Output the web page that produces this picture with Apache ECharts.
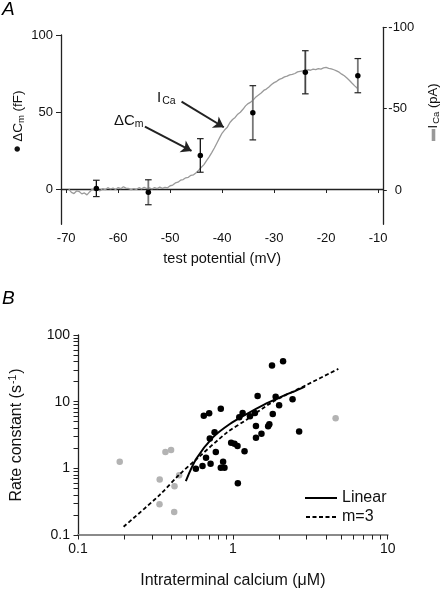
<!DOCTYPE html>
<html><head><meta charset="utf-8">
<script src="https://cdn.jsdelivr.net/npm/echarts@6/dist/echarts.min.js"></script>
<style>html,body{margin:0;padding:0;background:#fff}#c{width:442px;height:590px}</style>
</head><body><div id="c"></div><script>
// ---------- Panel A data ----------
const potential = [-64.2, -54.2, -44.2, -34.1, -24.0, -13.9];
const deltaCm = [0.4, -2.1, 21.8, 49.5, 75.8, 73.6];
const deltaCmErr = [5.3, 8.1, 10.9, 17.6, 14.0, 11.1];
const traceV = [-69.5,-69.0,-68.5,-68.0,-67.5,-67.0,-66.5,-66.0,-65.5,-65.0,-64.5,-64.0,-63.5,-63.0,-62.5,-62.0,-61.5,-61.0,-60.5,-60.0,
  -59.5,-59.0,-58.5,-58.0,-57.5,-57.0,-56.5,-56.0,-55.5,-55.0,-54.5,-54.0,-53.5,-53.0,-52.5,-52.0,-51.5,-51.0,-50.5,-50.0,
  -49.5,-49.0,-48.5,-48.0,-47.5,-47.0,-46.5,-46.0,-45.5,-45.0,-44.5,-44.0,-43.5,-43.0,-42.5,-42.0,-41.5,-41.0,-40.5,-40.0,
  -39.5,-39.0,-38.5,-38.0,-37.5,-37.0,-36.5,-36.0,-35.5,-35.0,-34.5,-34.0,-33.5,-33.0,-32.5,-32.0,-31.5,-31.0,-30.5,-30.0,
  -29.5,-29.0,-28.5,-28.0,-27.5,-27.0,-26.5,-26.0,-25.5,-25.0,-24.5,-24.0,-23.5,-23.0,-22.5,-22.0,-21.5,-21.0,-20.5,-20.0,
  -19.5,-19.0,-18.5,-18.0,-17.5,-17.0,-16.5,-16.0,-15.5,-15.0,-14.5,-14.0];
const traceI = [-0.5,1.5,2.2,0.6,1.0,2.4,1.8,3.0,1.2,-0.4,0.3,-0.2,0.5,-0.8,-0.2,-1.4,-0.6,-1.2,-0.3,-1.5,
  -0.8,-2.0,-1.1,-0.9,-0.2,-0.9,-0.4,-1.4,-0.7,-1.7,-0.9,-1.3,-0.6,-1.5,-0.8,-1.8,-1.0,-1.6,-1.3,-2.6,
  -3.0,-4.3,-4.8,-6.0,-6.4,-7.5,-7.8,-9.0,-9.3,-10.6,-12.2,-14.0,-15.6,-18.0,-20.4,-23.0,-25.8,-28.9,-32.0,-35.0,
  -37.0,-38.6,-41.5,-43.3,-44.6,-46.6,-47.8,-49.6,-51.7,-53.1,-54.0,-55.4,-57.2,-58.4,-59.6,-61.2,-62.0,-63.3,-64.8,-66.0,
  -66.8,-68.0,-68.6,-69.5,-70.0,-70.8,-71.0,-71.6,-72.6,-72.9,-73.2,-73.3,-73.9,-73.6,-74.3,-74.0,-74.6,-74.3,-75.0,-75.4,
  -74.8,-74.5,-73.9,-73.2,-72.4,-71.2,-70.2,-68.8,-67.3,-65.6,-64.0,-62.5];
const xTicksA = [-70, -60, -50, -40, -30, -20, -10];
const yTicksLeftA = [0, 50, 100];
const yTicksRightA = [-100, -50, 0];
// annotation arrows (data coords: mV, fF)
const arrowCm = [[-54.86, 40.5], [-45.89, 24.7]];
const arrowICa = [[-47.81, 56.7], [-39.68, 40.1]];

// ---------- Panel B data ----------
const blackCa = [0.649,0.703,0.836,0.762,0.710,0.776,0.671,0.577,0.637,0.718,0.865,0.836,0.883,1.077,0.975,1.025,1.072,1.19,1.10,1.156,1.29,1.388,1.445,1.41,1.41,1.79,2.11,1.89,2.43,1.99,1.81,1.72,1.69,1.53,2.68];
const blackRate = [6.15,6.68,7.82,3.49,2.81,1.76,1.44,0.986,1.08,1.17,1.25,1.02,1.02,0.597,2.42,2.34,2.16,1.80,5.83,6.75,6.03,6.75,12.2,4.33,2.87,34.8,40.3,11.9,10.9,8.87,6.53,4.59,4.29,3.30,3.56];
const grayCa = [0.186,0.367,0.399,0.337,0.45,0.42,0.336,0.418,4.61];
const grayRate = [1.25,1.76,1.89,0.68,0.79,0.54,0.29,0.222,5.63];
const linearCa = [0.497,0.582,0.746,0.956,1.226,1.57,2.01,2.58,2.92];
const linearRate = [0.645,1.40,2.94,4.63,6.53,8.9,11.6,14.8,16.8];
const m3Ca = [0.197,0.337,0.45,0.582,0.91,1.226,1.82,2.99,4.80];
const m3Rate = [0.133,0.40,0.80,1.37,3.4,5.37,10.0,17.8,31];
const xTicksB = [0.1, 1, 10];
const yTicksB = [0.1, 1, 10, 100];
const xTicksAllB = [0.1,0.2,0.3,0.4,0.5,0.6,0.7,0.8,0.9,1,2,3,4,5,6,7,8,9,10];
const yTicksAllB = [0.1,0.2,0.3,0.4,0.5,0.6,0.7,0.8,0.9,1,2,3,4,5,6,7,8,9,10,20,30,40,50,60,70,80,90,100];

// ---------- styles ----------
const FONT = '"Liberation Sans", Arial, Helvetica, sans-serif';
const INK = '#111';
const stemColors = ['#111', '#777', '#111', '#777', '#444', '#777'];
const ICON_SOLID = 'path://M0,0H32V2H0Z';
const ICON_DASH = 'path://M0,0h4v2h-4z M6.5,0h4v2h-4z M13,0h4v2h-4z M19.5,0h4v2h-4z M26,0h4v2h-4z';

const zip = (a, b) => a.map((v, i) => [v, b[i]]);

const chart = echarts.init(document.getElementById('c'), null, {renderer: 'canvas'});
const axisCommon = {
  axisLine: {show: true, lineStyle: {color: '#222', width: 1.3}},
  splitLine: {show: false},
};

const option = {
  animation: false,
  backgroundColor: '#fff',
  textStyle: {fontFamily: FONT, color: INK},
  grid: [
    {left: 61, right: 58.7, top: 35, bottom: 365.7},
    {left: 61, right: 58.7, top: 27.3, bottom: 365.7},
    {left: 77.7, right: 54.3, top: 335, bottom: 52.7}
  ],
  xAxis: [
    Object.assign({}, axisCommon, {
      type: 'value', gridIndex: 0, min: -71, max: -9,
      name: 'test potential (mV)', nameLocation: 'middle', nameGap: 27,
      nameTextStyle: {fontSize: 14.5, color: INK},
      axisTick: {show: true, length: 4, customValues: xTicksA, lineStyle: {color: '#222'}},
      axisLabel: {fontSize: 13, color: INK, margin: 8, customValues: xTicksA}
    }),
    {type: 'value', gridIndex: 1, min: -71, max: -9, show: false},
    Object.assign({}, axisCommon, {
      type: 'log', gridIndex: 2, min: 0.1, max: 10, logBase: 10,
      axisLine: {show: true, lineStyle: {color: '#8a8a8a', width: 2}},
      name: 'Intraterminal calcium (\u03bcM)', nameLocation: 'middle', nameGap: 38,
      nameTextStyle: {fontSize: 16, color: INK},
      axisTick: {show: true, length: 4.5, customValues: xTicksAllB, lineStyle: {color: '#222', width: 1}},
      axisLabel: {fontSize: 14, color: INK, margin: 7, customValues: xTicksB,
        formatter: v => String(+(+v).toPrecision(3))}
    })
  ],
  yAxis: [
    Object.assign({}, axisCommon, {
      type: 'value', gridIndex: 0, min: -22.9, max: 100, position: 'left',
      axisTick: {show: true, length: 5, customValues: yTicksLeftA, lineStyle: {color: '#222'}},
      axisLabel: {fontSize: 13, color: INK, margin: 8, customValues: yTicksLeftA}
    }),
    Object.assign({}, axisCommon, {
      type: 'value', gridIndex: 1, min: -100, max: 21.1, inverse: true, position: 'right',
      axisTick: {show: true, length: 3.5, customValues: yTicksRightA, lineStyle: {color: '#222'}},
      axisLabel: {fontSize: 13, color: INK, margin: 5, customValues: yTicksRightA,
        formatter: v => (+v === 0 ? '\u20020' : String(v))}
    }),
    Object.assign({}, axisCommon, {
      type: 'log', gridIndex: 2, min: 0.1, max: 100, logBase: 10,
      name: '{n|Rate constant (s}{sup|-1}{n|)}', nameLocation: 'middle', nameGap: 52,
      nameTextStyle: {fontSize: 16, color: INK, rich: {
        n: {fontSize: 16, color: INK, fontFamily: FONT},
        sup: {fontSize: 10.5, color: INK, fontFamily: FONT, padding: [0, 1, 7, 1]}
      }},
      axisTick: {show: true, length: 4.5, customValues: yTicksAllB, lineStyle: {color: '#222', width: 1}},
      axisLabel: {fontSize: 14, color: INK, margin: 8, customValues: yTicksB,
        formatter: v => String(+(+v).toPrecision(3))}
    })
  ],
  legend: {
    orient: 'vertical', left: 300, top: 485, itemWidth: 32, itemHeight: 2, itemGap: 3,
    data: [{name: 'Linear', icon: ICON_SOLID}, {name: 'm=3', icon: ICON_DASH}],
    textStyle: {fontSize: 16, color: INK, fontFamily: FONT},
    selectedMode: false
  },
  series: [
    {
      name: 'ICa trace', type: 'line', xAxisIndex: 1, yAxisIndex: 1,
      data: zip(traceV, traceI), showSymbol: false, symbol: 'none', smooth: false,
      lineStyle: {color: '#9a9a9a', width: 1.3}, z: 2, silent: true
    },
    {
      name: 'err', type: 'custom', xAxisIndex: 0, yAxisIndex: 0, z: 3,
      data: potential.map((v, i) => [v, deltaCm[i], deltaCmErr[i]]),
      renderItem: function (params, api) {
        const x = api.value(0), y = api.value(1), e = api.value(2);
        const t = api.coord([x, y + e]), b = api.coord([x, y - e]);
        const hw = 3.3, col = stemColors[params.dataIndex];
        return {type: 'group', children: [
          {type: 'line', shape: {x1: t[0], y1: t[1], x2: b[0], y2: b[1]}, style: {stroke: col, lineWidth: col === '#111' ? 1.3 : 1.8}},
          {type: 'line', shape: {x1: t[0] - hw, y1: t[1], x2: t[0] + hw, y2: t[1]}, style: {stroke: '#222', lineWidth: 1.2}},
          {type: 'line', shape: {x1: b[0] - hw, y1: b[1], x2: b[0] + hw, y2: b[1]}, style: {stroke: '#222', lineWidth: 1.2}}
        ]};
      }
    },
    {
      name: 'dCm', type: 'scatter', xAxisIndex: 0, yAxisIndex: 0, z: 4,
      data: zip(potential, deltaCm), symbolSize: 5.5, itemStyle: {color: '#000', opacity: 1},
      markLine: {
        silent: true, animation: false, symbol: ['none', 'arrow'], symbolSize: 10,
        lineStyle: {color: '#222', width: 2, type: 'solid'}, label: {show: false},
        itemStyle: {color: '#222'},
        data: [
          [{coord: arrowCm[0]}, {coord: arrowCm[1]}],
          [{coord: arrowICa[0]}, {coord: arrowICa[1]}]
        ]
      }
    },
    {
      name: 'gray', type: 'scatter', xAxisIndex: 2, yAxisIndex: 2,
      data: zip(grayCa, grayRate), symbolSize: 6.5, itemStyle: {color: '#b3b3b3', opacity: 1}
    },
    {
      name: 'black', type: 'scatter', xAxisIndex: 2, yAxisIndex: 2,
      data: zip(blackCa, blackRate), symbolSize: 6.5, itemStyle: {color: '#000', opacity: 1}
    },
    {
      name: 'Linear', type: 'line', xAxisIndex: 2, yAxisIndex: 2, smooth: 0.3,
      data: zip(linearCa, linearRate), symbol: 'none', showSymbol: false,
      lineStyle: {color: '#000', width: 2}, itemStyle: {color: '#000'}, z: 5
    },
    {
      name: 'm=3', type: 'line', xAxisIndex: 2, yAxisIndex: 2, smooth: 0.3,
      data: zip(m3Ca, m3Rate), symbol: 'none', showSymbol: false,
      lineStyle: {color: '#000', width: 1.8, type: [4, 2.5]}, itemStyle: {color: '#000'}, z: 5
    }
  ],
  graphic: [
    {type: 'text', x: 2, y: 9.5, style: {text: 'A', font: 'italic 19px ' + FONT, fill: '#000', verticalAlign: 'middle'}},
    {type: 'text', x: 2, y: 299, style: {text: 'B', font: 'italic 19px ' + FONT, fill: '#000', verticalAlign: 'middle'}},
    {type: 'text', x: 114, y: 112, style: {
      text: '{n|\u0394C}{s|m}', fill: INK,
      rich: {n: {fontSize: 15, fontFamily: FONT, fill: INK}, s: {fontSize: 10.5, fontFamily: FONT, fill: INK, padding: [7, 0, 0, 0]}}
    }},
    {type: 'text', x: 157, y: 89, style: {
      text: '{n|I}{s|Ca}', fill: INK,
      rich: {n: {fontSize: 15, fontFamily: FONT, fill: INK}, s: {fontSize: 10.5, fontFamily: FONT, fill: INK, padding: [7, 0, 0, 1]}}
    }},
    {type: 'text', x: 18.5, y: 121.5, rotation: Math.PI / 2, style: {
      text: '{d|\u2022}{n| \u0394C}{s|m}{n| (fF)}', fill: INK, align: 'center', verticalAlign: 'middle',
      rich: {d: {fontSize: 20, fontFamily: FONT, fill: INK},
        n: {fontSize: 13.5, fontFamily: FONT, fill: INK}, s: {fontSize: 9.5, fontFamily: FONT, fill: INK, padding: [6, 0, 0, 0]}}
    }},
    {type: 'rect', x: 431.7, y: 129, shape: {x: 0, y: 0, width: 3.6, height: 12}, style: {fill: '#999'}},
    {type: 'text', x: 433.5, y: 106, rotation: Math.PI / 2, style: {
      text: '{n|I}{s|Ca}{n| (pA)}', fill: INK, align: 'center', verticalAlign: 'middle',
      rich: {n: {fontSize: 13, fontFamily: FONT, fill: INK}, s: {fontSize: 9.5, fontFamily: FONT, fill: INK, padding: [6, 0, 0, 1]}}
    }}
  ]
};
chart.setOption(option);
</script></body></html>
